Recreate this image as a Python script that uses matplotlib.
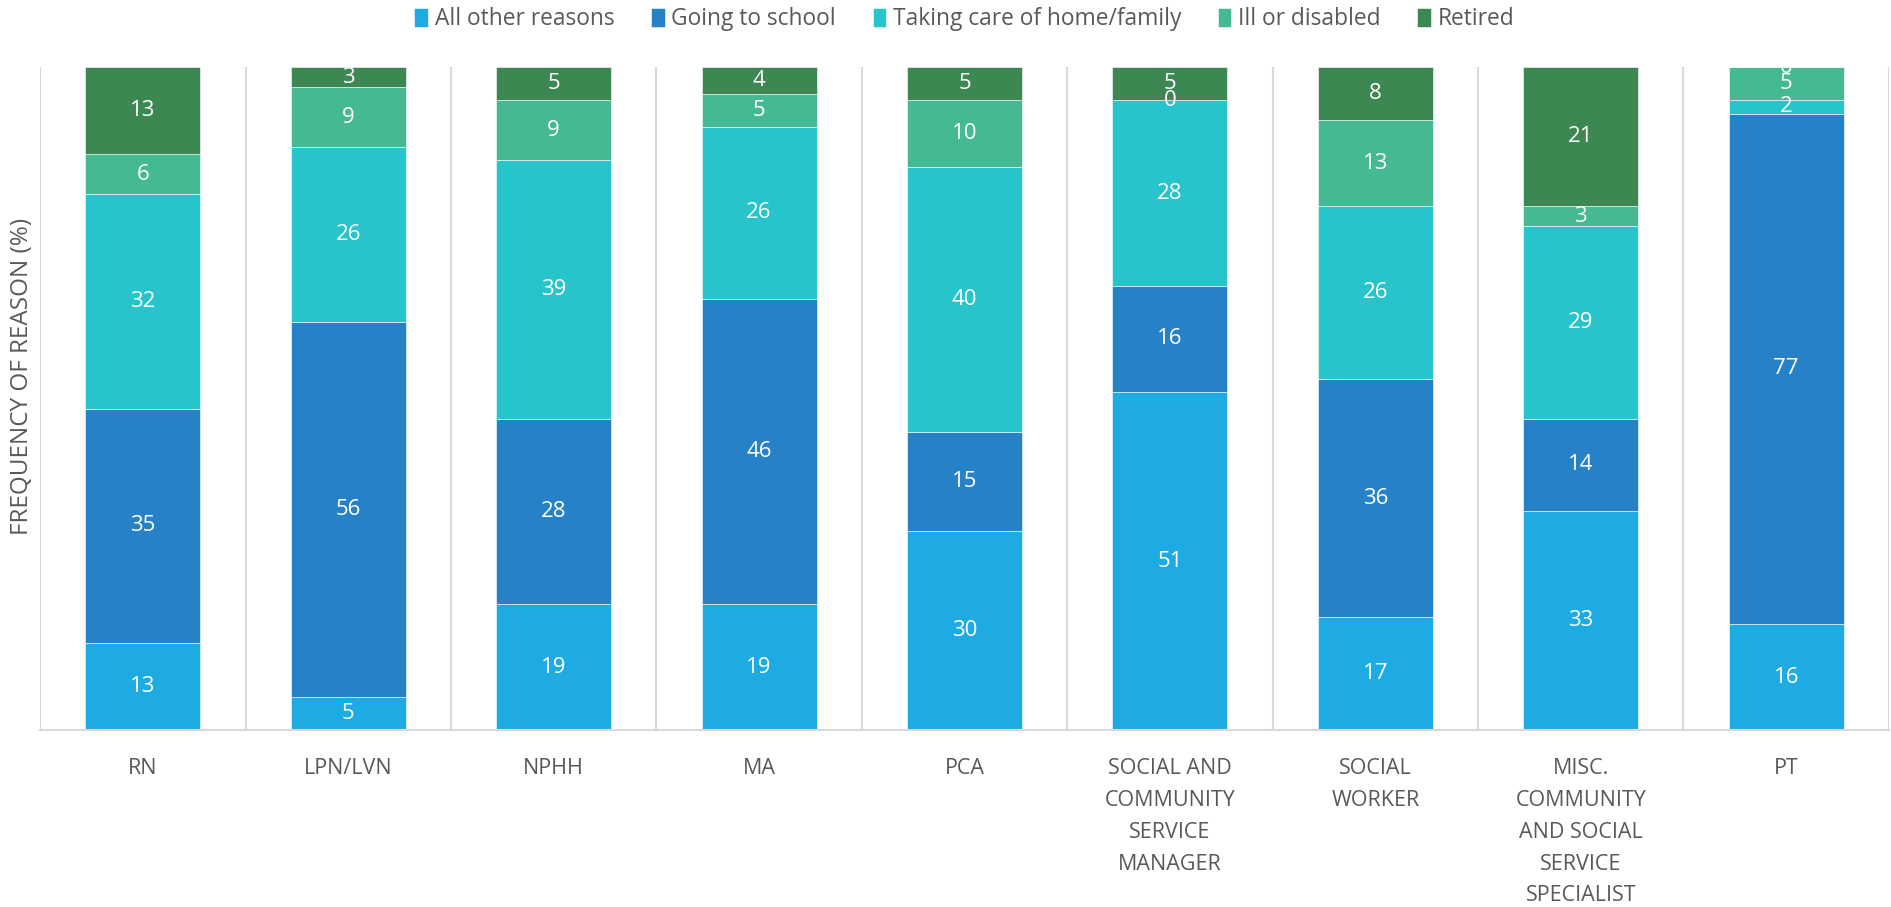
import matplotlib.pyplot as plt
import numpy as np

plt.rcParams['font.family'] = ['Open Sans', 'DejaVu Sans']

categories = ['RN', 'LPN/LVN', 'NPHH', 'MA', 'PCA',
              'SOCIAL AND\nCOMMUNITY\nSERVICE\nMANAGER',
              'SOCIAL\nWORKER',
              'MISC.\nCOMMUNITY\nAND SOCIAL\nSERVICE\nSPECIALIST',
              'PT']
series = ['All other reasons', 'Going to school', 'Taking care of home/family',
          'Ill or disabled', 'Retired']
other = [13, 5, 19, 19, 30, 51, 17, 33, 16]
school = [35, 56, 28, 46, 15, 16, 36, 14, 77]
family = [32, 26, 39, 26, 40, 28, 26, 29, 2]
ill = [6, 9, 9, 5, 10, 0, 13, 3, 5]
retired = [13, 3, 5, 4, 5, 5, 8, 21, 0]
colors = ['#1EABE3', '#2681C6', '#27C4CB', '#44B994', '#3D8753']

values = np.array([other, school, family, ill, retired], dtype=float)
totals = values.sum(axis=0)
shares = values / totals * 100

fig = plt.figure(figsize=(18.91, 9.07), dpi=100)
ax = fig.add_axes([0.0212, 0.195, 0.9777, 0.731])

x = np.arange(len(categories))
bottom = np.zeros(len(categories))
for i, name in enumerate(series):
    ax.bar(x, shares[i], 0.56, bottom=bottom, color=colors[i], label=name,
           edgecolor='white', linewidth=0.4, zorder=2)
    for j in range(len(categories)):
        ax.text(x[j], bottom[j] + shares[i][j] / 2, '%d' % values[i][j],
                ha='center', va='center', color='white', fontsize=16,
                clip_on=True, zorder=3)
    bottom += shares[i]

ax.set_xlim(-0.5, len(categories) - 0.5)
ax.set_ylim(0, 100)
ax.set_yticks([])
ax.set_xticks(x)
ax.set_xticklabels(categories, fontsize=15.5, color='#595959', linespacing=1.68)
ax.tick_params(axis='x', length=0, pad=20)

# separators between categories
for b in np.arange(-0.5, len(categories), 1.0):
    ax.axvline(b, color='#D9D9D9', linewidth=1.5, zorder=1)

for s in ['top', 'right', 'left']:
    ax.spines[s].set_visible(False)
ax.spines['bottom'].set_color('#D9D9D9')
ax.spines['bottom'].set_linewidth(1.5)

# axis title sits a bit above the middle, like in the original
fig.text(0.0115, 0.585, 'FREQUENCY OF REASON (%)', rotation=90, fontsize=17.5,
         color='#595959', ha='center', va='center')

ax.legend(loc='center', bbox_to_anchor=(0.5, 1.072), ncol=5, frameon=False,
          fontsize=16.4, handlelength=0.6, handleheight=0.9, handletextpad=0.3,
          columnspacing=1.6, labelcolor='#595959')

fig.savefig('out.png', dpi=100)
